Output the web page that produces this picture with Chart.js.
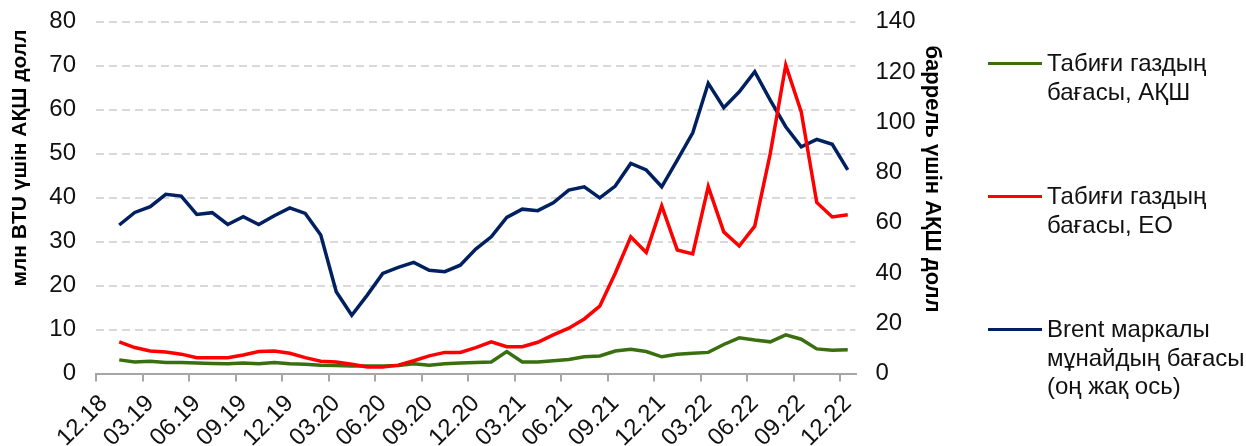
<!DOCTYPE html>
<html lang="kk">
<head>
    <meta charset="UTF-8">
    <title>Табиғи газ және Brent мұнайының бағасы</title>
    <script src="https://cdn.jsdelivr.net/npm/chart.js"></script>
    <style>
        body { margin: 0; background: #fff; font-family: "Liberation Sans", Arial, sans-serif; }
        .wrap { position: relative; width: 1246px; height: 446px; overflow: hidden; }
        .legend-item { position: absolute; left: 988px; color: #111; font-size: 24px; line-height: 28.5px; }
        .legend-item .swatch { position: absolute; left: 0; top: 13px; width: 54px; height: 3px; }
        .legend-item .text { position: absolute; left: 59px; top: 0; white-space: nowrap; }
    </style>
</head>
<body>
    <div class="wrap">
        <canvas id="priceChart" width="1246" height="446"></canvas>
        <div id="legend"></div>
    </div>

    <script>
        // months on the axis; the first slot (12.18) has no data
        const months = [
            '12.18',
            '01.19', '02.19', '03.19', '04.19', '05.19', '06.19', '07.19', '08.19', '09.19', '10.19', '11.19', '12.19',
            '01.20', '02.20', '03.20', '04.20', '05.20', '06.20', '07.20', '08.20', '09.20', '10.20', '11.20', '12.20',
            '01.21', '02.21', '03.21', '04.21', '05.21', '06.21', '07.21', '08.21', '09.21', '10.21', '11.21', '12.21',
            '01.22', '02.22', '03.22', '04.22', '05.22', '06.22', '07.22', '08.22', '09.22', '10.22', '11.22', '12.22'
        ];

        // $ per mln BTU, left axis
        const gasUS = [
            null,
            3.1, 2.6, 2.8, 2.5, 2.5, 2.4, 2.3, 2.2, 2.4, 2.2, 2.5, 2.2,
            2.1, 1.9, 1.8, 1.7, 1.7, 1.7, 1.8, 2.2, 1.9, 2.2, 2.4, 2.5,
            2.6, 5.0, 2.6, 2.6, 2.9, 3.2, 3.8, 4.0, 5.1, 5.5, 5.0, 3.8,
            4.4, 4.6, 4.8, 6.6, 8.1, 7.6, 7.2, 8.8, 7.8, 5.6, 5.3, 5.4
        ];
        const gasEU = [
            null,
            7.2, 5.9, 5.1, 4.9, 4.4, 3.6, 3.6, 3.6, 4.2, 5.0, 5.1, 4.6,
            3.6, 2.8, 2.6, 2.1, 1.5, 1.5, 1.9, 2.9, 4.0, 4.8, 4.8, 5.9,
            7.2, 6.1, 6.1, 7.1, 8.8, 10.3, 12.4, 15.3, 22.8, 31.1, 27.5, 38.1,
            28.1, 27.2, 42.5, 32.2, 29.0, 33.5, 50.0, 70.1, 59.5, 38.9, 35.6, 36.1
        ];
        // $ per barrel, right axis
        const brent = [
            null,
            59.1, 64.1, 66.4, 71.3, 70.6, 63.3, 64.0, 59.3, 62.4, 59.3, 62.8, 65.9,
            63.7, 55.1, 32.5, 23.2, 31.2, 39.8, 42.2, 44.2, 41.1, 40.5, 43.1, 49.5,
            54.4, 62.1, 65.4, 64.8, 67.9, 73.0, 74.3, 69.9, 74.6, 83.6, 81.0, 74.3,
            84.9, 95.8, 115.5, 105.8, 112.1, 120.1, 108.8, 98.2, 90.2, 93.2, 91.2, 81.0
        ];

        const leftTitle = 'млн BTU үшін АҚШ долл';
        const rightTitle = 'баррель үшін АҚШ долл';

        const series = [
            { label: ['Табиғи газдың', 'бағасы, АҚШ'], data: gasUS, color: '#3a6f10', axis: 'y', order: 3, top: 49 },
            { label: ['Табиғи газдың', 'бағасы, ЕО'], data: gasEU, color: '#ff0000', axis: 'y', order: 1, top: 182 },
            { label: ['Brent маркалы', 'мұнайдың бағасы', '(оң жақ ось)'], data: brent, color: '#002060', axis: 'y1', order: 2, top: 315 }
        ];

        const tickFont = { family: '"Liberation Sans", Arial, sans-serif', size: 24 };
        const textColor = '#111';

        // axis titles drawn by hand so they sit where the original has them
        function drawVerticalTitle(ctx, text, x, y, angle, size) {
            ctx.save();
            ctx.font = `bold ${size}px "Liberation Sans", Arial, sans-serif`;
            ctx.fillStyle = '#000';
            ctx.textAlign = 'center';
            ctx.textBaseline = 'middle';
            ctx.translate(x, y);
            ctx.rotate(angle);
            ctx.fillText(text, 0, 0);
            ctx.restore();
        }

        const axisTitles = {
            id: 'axisTitles',
            afterDraw(chart) {
                drawVerticalTitle(chart.ctx, leftTitle, 20, 158, -Math.PI / 2, 21);
                drawVerticalTitle(chart.ctx, rightTitle, 932, 179, Math.PI / 2, 22);
            }
        };

        const ctx = document.getElementById('priceChart').getContext('2d');
        const chart = new Chart(ctx, {
            type: 'line',
            data: {
                labels: months,
                datasets: series.map(s => ({
                    label: s.label.join(' '),
                    data: s.data,
                    yAxisID: s.axis,
                    borderColor: s.color,
                    backgroundColor: s.color,
                    borderWidth: 3.5,
                    pointRadius: 0,
                    tension: 0,
                    fill: false,
                    order: s.order
                }))
            },
            options: {
                responsive: false,
                animation: false,
                layout: { padding: { top: 21.7, left: 0, right: 290.5, bottom: 0 } },
                plugins: {
                    legend: { display: false },
                    tooltip: { enabled: false }
                },
                scales: {
                    x: {
                        offset: true,
                        grid: {
                            offset: true,
                            drawOnChartArea: false,
                            tickLength: 8,
                            lineWidth: 2,
                            color: c => (c.index % 3 === 0 ? '#a6a6a6' : 'transparent')
                        },
                        border: { color: '#a6a6a6', width: 2 },
                        ticks: {
                            autoSkip: false,
                            minRotation: 45,
                            maxRotation: 45,
                            padding: 8,
                            font: tickFont,
                            color: textColor,
                            callback: (v, i) => (i % 3 === 0 ? months[i] : '')
                        },
                        afterFit: s => { s.height = 72.5; }
                    },
                    y: {
                        position: 'left',
                        min: 0,
                        max: 80,
                        // invisible tick marks give the gap between labels and plot
                        ticks: { stepSize: 10, padding: 2, font: tickFont, color: textColor },
                        grid: { color: '#d9d9d9', lineWidth: 2, tickLength: 18, tickColor: 'transparent' },
                        border: { display: false, dash: [8, 5] },
                        afterFit: s => { s.width = 96; }
                    },
                    y1: {
                        position: 'right',
                        min: 0,
                        max: 140,
                        ticks: { stepSize: 20, padding: 2, font: tickFont, color: textColor },
                        grid: { drawOnChartArea: false, tickLength: 18, tickColor: 'transparent' },
                        border: { display: false },
                        afterFit: s => { s.width = 100; }
                    }
                }
            },
            plugins: [axisTitles]
        });

        // legend on the right, one block per series
        const legend = document.getElementById('legend');
        series.forEach(s => {
            const item = document.createElement('div');
            item.className = 'legend-item';
            item.style.top = s.top + 'px';
            item.innerHTML = `<span class="swatch" style="background:${s.color}"></span>
                              <span class="text">${s.label.join('<br>')}</span>`;
            legend.appendChild(item);
        });
    </script>
</body>
</html>
